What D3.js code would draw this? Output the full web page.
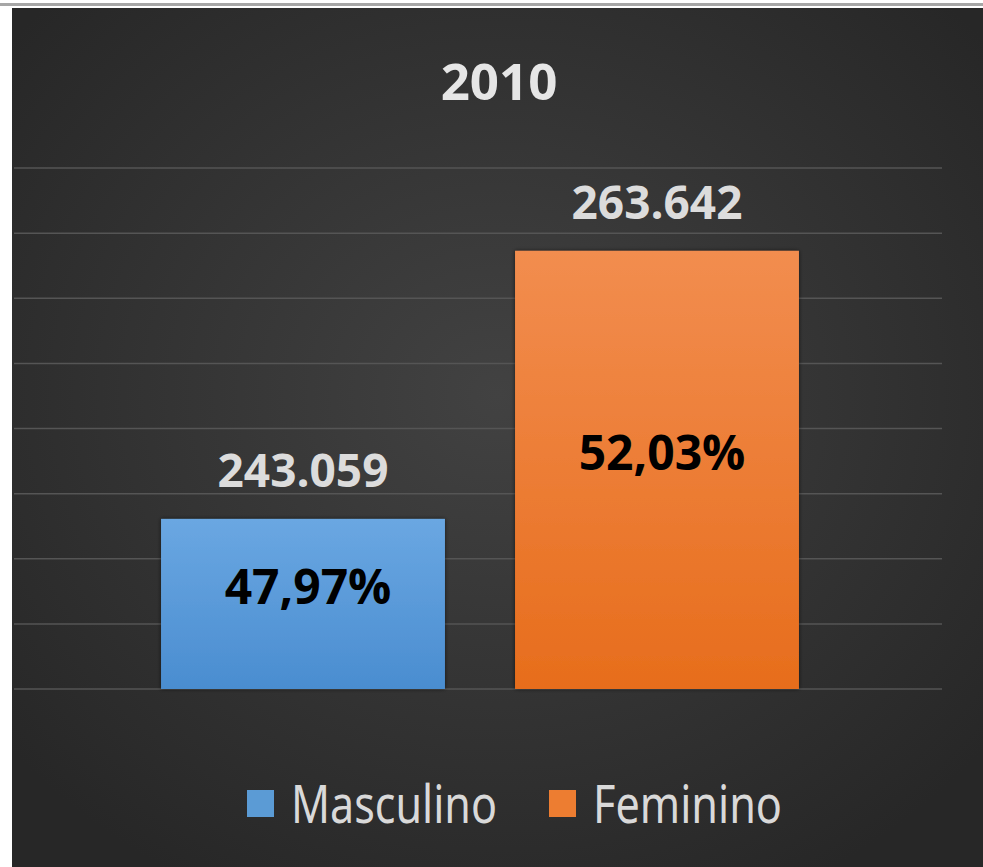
<!DOCTYPE html>
<html>

<head>
    <meta charset="UTF-8">
    <style>
        body { margin: 0; background: #ffffff; }
        svg { display: block; }
    </style>
</head>

<body>
    <div class="chart"><svg></svg></div>
    <script src="https://d3js.org/d3.v7.min.js"></script>

    <script>

        let width = 983, height = 867;

        // data
        const title = "2010";
        const categories = ["Masculino", "Feminino"];
        const values = [243059, 263642];
        const valueLabels = ["243.059", "263.642"];
        const percentLabels = ["47,97%", "52,03%"];
        const colors = ["#5b9bd5", "#ed7d31"];
        const yDomain = [230000, 270000];

        let svg = d3.select("svg")
            .attr("width", width)
            .attr("height", height)
            .attr("viewBox", "0 0 " + width + " " + height)

        let defs = svg.append("defs");

        // background panel gradient
        let bg = defs.append("radialGradient")
            .attr("id", "bg")
            .attr("cx", "50%").attr("cy", "45%").attr("r", "65%");
        bg.append("stop").attr("offset", "0%").attr("stop-color", "#424242");
        bg.append("stop").attr("offset", "100%").attr("stop-color", "#272727");

        // bar gradients
        const barStops = [["#6aa7e2", "#4a8dd0"], ["#f28d4f", "#e76d1c"]];
        barStops.forEach(function (s, i) {
            let g = defs.append("linearGradient")
                .attr("id", "bar" + i)
                .attr("x1", 0).attr("y1", 0).attr("x2", 0).attr("y2", 1);
            g.append("stop").attr("offset", "0%").attr("stop-color", s[0]);
            g.append("stop").attr("offset", "100%").attr("stop-color", s[1]);
        });

        let shadow = defs.append("filter").attr("id", "shadow")
            .attr("x", "-10%").attr("y", "-10%").attr("width", "120%").attr("height", "120%");
        shadow.append("feDropShadow")
            .attr("dx", 0).attr("dy", 0).attr("stdDeviation", 2)
            .attr("flood-color", "#000").attr("flood-opacity", 0.6);

        // top rule and panel
        svg.append("rect")
            .attr("x", 0).attr("y", 3).attr("width", width).attr("height", 3)
            .attr("fill", "#a6a6a6");
        svg.append("rect")
            .attr("x", 12).attr("y", 8).attr("width", width - 12).attr("height", height - 8)
            .attr("fill", "url(#bg)");

        // scales
        const x = d3.scaleBand()
            .domain(categories)
            .range([126, 834])
            .paddingInner(0.198)
            .paddingOuter(0.099);

        const y = d3.scaleLinear()
            .domain(yDomain)
            .range([689, 168]);

        // gridlines
        svg.append("g")
            .attr("class", "grid")
            .selectAll("line")
            .data(y.ticks(8))
            .enter()
            .append("line")
            .attr("x1", 14).attr("x2", 942)
            .attr("y1", d => y(d)).attr("y2", d => y(d))
            .attr("stroke", "#555555")
            .attr("stroke-width", 1.5);

        // bars
        svg.append("g")
            .selectAll("rect")
            .data(values)
            .enter()
            .append("rect")
            .attr("x", (d, i) => x(categories[i]))
            .attr("y", d => y(d))
            .attr("width", x.bandwidth())
            .attr("height", d => y(yDomain[0]) - y(d))
            .attr("fill", (d, i) => "url(#bar" + i + ")")
            .attr("filter", "url(#shadow)");

        // value labels above the bars
        svg.append("g")
            .selectAll("text")
            .data(values)
            .enter()
            .append("text")
            .attr("x", (d, i) => x(categories[i]) + x.bandwidth() / 2)
            .attr("y", d => y(d) - 32)
            .attr("text-anchor", "middle")
            .style("font-family", "'Open Sans', 'Noto Sans', sans-serif")
            .style("font-weight", "bold")
            .style("font-size", "46px")
            .attr("fill", "#dcdcdc")
            .text((d, i) => valueLabels[i]);

        // percentage labels inside the bars
        svg.append("g")
            .selectAll("text")
            .data(values)
            .enter()
            .append("text")
            .attr("x", (d, i) => x(categories[i]) + x.bandwidth() / 2 + 5)
            .attr("y", d => (y(d) + y(yDomain[0])) / 2 + 0)
            .attr("text-anchor", "middle")
            .style("font-family", "'Open Sans', 'Noto Sans', sans-serif")
            .style("font-weight", "bold")
            .style("font-size", "48px")
            .attr("fill", "#000000")
            .text((d, i) => percentLabels[i]);

        // title
        svg.append("text")
            .attr("x", 499)
            .attr("y", 100)
            .attr("text-anchor", "middle")
            .style("font-family", "'Open Sans', 'Noto Sans', sans-serif")
            .style("font-weight", "bold")
            .style("font-size", "51px")
            .attr("fill", "#e6e6e6")
            .text(title);

        // legend
        const legendX = [247, 549];
        const legendW = [206, 189];
        let legend = svg.append("g").attr("class", "legend");
        categories.forEach(function (c, i) {
            legend.append("rect")
                .attr("x", legendX[i]).attr("y", 790)
                .attr("width", 27).attr("height", 27)
                .attr("fill", colors[i]);
            legend.append("text")
                .attr("x", legendX[i] + 44)
                .attr("y", 823)
                .attr("textLength", legendW[i])
                .attr("lengthAdjust", "spacingAndGlyphs")
                .style("font-family", "'Noto Sans', 'Open Sans', sans-serif")
                .style("font-size", "52px")
                .attr("fill", "#d9d9d9")
                .text(c);
        });
    </script>

</body>

</html>
